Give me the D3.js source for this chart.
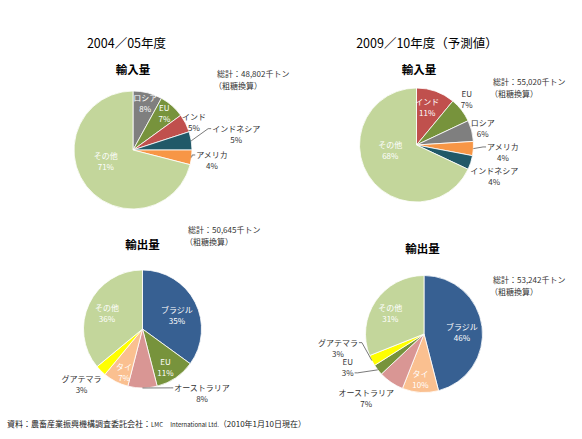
<!DOCTYPE html>
<html>
<head>
<meta charset="utf-8">
<script src="https://cdn.jsdelivr.net/npm/d3@7"></script>
<style>
  body { margin: 0; background: #fff; }
  svg { display: block; font-family: "Noto Sans CJK JP", "Noto Sans", sans-serif; }
</style>
</head>
<body>
<div id="chart"></div>
<script>
// Data: shares (%) by origin, clockwise from 12 o'clock
const imp0405Labels = ["ロシア", "EU", "インド", "インドネシア", "アメリカ", "その他"];
const imp0405Values = [8, 7, 5, 5, 4, 71];
const imp0910Labels = ["インド", "EU", "ロシア", "アメリカ", "インドネシア", "その他"];
const imp0910Values = [11, 7, 6, 4, 4, 68];
const exp0405Labels = ["ブラジル", "EU", "オーストラリア", "タイ", "グアテマラ", "その他"];
const exp0405Values = [35, 11, 8, 7, 3, 36];
const exp0910Labels = ["ブラジル", "タイ", "オーストラリア", "EU", "グアテマラ", "その他"];
const exp0910Values = [46, 10, 7, 3, 3, 31];
const totals = ["48,802", "55,020", "50,645", "53,242"];
const yearTitles = ["2004／05年度", "2009／10年度（予測値）"];

const width = 582;
const height = 439;

const color = d3.scaleOrdinal()
  .domain(["ロシア", "EU", "インド", "インドネシア", "アメリカ", "その他", "ブラジル", "オーストラリア", "タイ", "グアテマラ"])
  .range(["#7F7F7F", "#77933C", "#C0504D", "#215968", "#F79646", "#C3D69B", "#376092", "#D99694", "#FAC090", "#FFFF00"]);

const svg = d3.select("#chart")
  .append("svg")
  .attr("width", width)
  .attr("height", height);

// layout per pie: centre, radius, label radius factor, angle nudge (deg), leader (0 none, 1 first line, 2 second line), white text
const pies = [
  { labels: imp0405Labels, values: imp0405Values, cx: 133, cy: 150, r: 59,
    lr: [0.83, 0.82, 1.14, 1.77, 1.35, 0.5], la: [0, -1, 2, 0, 0, 15],
    leader: [0, 0, 0, 1, 1, 0], inside: [1, 1, 0, 0, 0, 1],
    title: "輸入量", tx: 133, ty: 74, sx: 217, sy: 77 },
  { labels: imp0910Labels, values: imp0910Values, cx: 416.5, cy: 145, r: 57,
    lr: [0.69, 1.2, 1.2, 1.52, 1.47, 0.47], la: [-4, -5, 0, 1, 4, 21],
    leader: [0, 0, 0, 1, 0, 0], inside: [1, 0, 0, 0, 0, 1],
    title: "輸入量", tx: 419, ty: 74, sx: 493, sy: 85 },
  { labels: exp0405Labels, values: exp0405Values, cx: 142.5, cy: 329, r: 59,
    lr: [0.63, 0.75, 1.48, 0.8, 1.39, 0.66], la: [5, 3, -43, -4, 3, -1],
    leader: [0, 0, 1, 0, 0, 0], inside: [1, 1, 0, 1, 0, 1],
    title: "輸出量", tx: 142.5, ty: 249, sx: 188, sy: 233 },
  { labels: exp0910Labels, values: exp0910Values, cx: 424, cy: 334, r: 58.5,
    lr: [0.65, 0.77, 1.47, 1.42, 1.49, 0.68], la: [4, 1, 8, 14.5, 18, -2],
    leader: [0, 0, 0, 2, 1, 0], inside: [1, 1, 0, 0, 0, 1],
    title: "輸出量", tx: 422.5, ty: 253, sx: 493, sy: 283 }
];

// year headings
svg.append("text").attr("x", 126.5).attr("y", 48).attr("text-anchor", "middle")
  .attr("font-size", 12.5).attr("fill", "#000").text(yearTitles[0]);
svg.append("text").attr("x", 427).attr("y", 48).attr("text-anchor", "middle")
  .attr("font-size", 12.5).attr("fill", "#000").text(yearTitles[1]);

const rad = d => d * Math.PI / 180;

pies.forEach((p, k) => {
  const g = svg.append("g").attr("transform", `translate(${p.cx},${p.cy})`);

  const data = p.labels.map((l, i) => ({ label: l, value: p.values[i], i: i }));
  const pie = d3.pie().value(d => d.value).sort(null);
  const arc = d3.arc().innerRadius(0).outerRadius(p.r);

  g.selectAll("path")
    .data(pie(data))
    .enter()
    .append("path")
    .attr("d", arc)
    .attr("fill", d => color(d.data.label))
    .attr("stroke", "#fff")
    .attr("stroke-width", 0.8);

  pie(data).forEach(d => {
    const i = d.data.i;
    const mid = (d.startAngle + d.endAngle) / 2;
    const a = mid + rad(p.la[i]);
    const lx = Math.sin(a) * p.r * p.lr[i];
    const ly = -Math.cos(a) * p.r * p.lr[i];
    const fill = p.inside[i] ? "#fff" : "#333";

    const t = g.append("text")
      .attr("text-anchor", "middle")
      .attr("font-size", 8)
      .attr("fill", fill);
    const t1 = t.append("tspan").attr("x", lx).attr("y", ly - 2).text(d.data.label);
    const t2 = t.append("tspan").attr("x", lx).attr("y", ly + 9).text(d.data.value + "%");

    if (p.leader[i]) {
      const line = p.leader[i] === 1 ? t1 : t2;
      const w = line.node().getComputedTextLength();
      const sx = Math.sin(mid) * p.r;
      const sy = -Math.cos(mid) * p.r;
      const ex = sx < lx ? lx - w / 2 - 1 : lx + w / 2 + 1;
      const ey = (p.leader[i] === 1 ? ly - 2 : ly + 9) - 3;
      g.append("path")
        .attr("d", d3.line()([[sx, sy], [ex - (sx < lx ? 3 : -3), ey], [ex, ey]]))
        .attr("fill", "none")
        .attr("stroke", "#404040")
        .attr("stroke-width", 0.7);
    }
  });

  // sub title
  svg.append("text").attr("x", p.tx).attr("y", p.ty).attr("text-anchor", "middle")
    .attr("font-size", 11.5).attr("font-weight", "bold").attr("fill", "#000").text(p.title);

  // total
  svg.append("text").attr("x", p.sx).attr("y", p.sy)
    .attr("font-size", 8).attr("fill", "#333").text(`総計：${totals[k]}千トン`);
  svg.append("text").attr("x", p.sx - 3).attr("y", p.sy + 12)
    .attr("font-size", 8).attr("fill", "#333").text("（粗糖換算）");
});

// source note
const note = svg.append("text").attr("x", 7).attr("y", 427).attr("font-size", 8).attr("fill", "#222");
note.append("tspan").text("資料：農畜産業振興機構調査委託会社：");
note.append("tspan").attr("font-size", 6).text("LMC　 International Ltd.");
note.append("tspan").text("（2010年1月10日現在）");
</script>
</body>
</html>
